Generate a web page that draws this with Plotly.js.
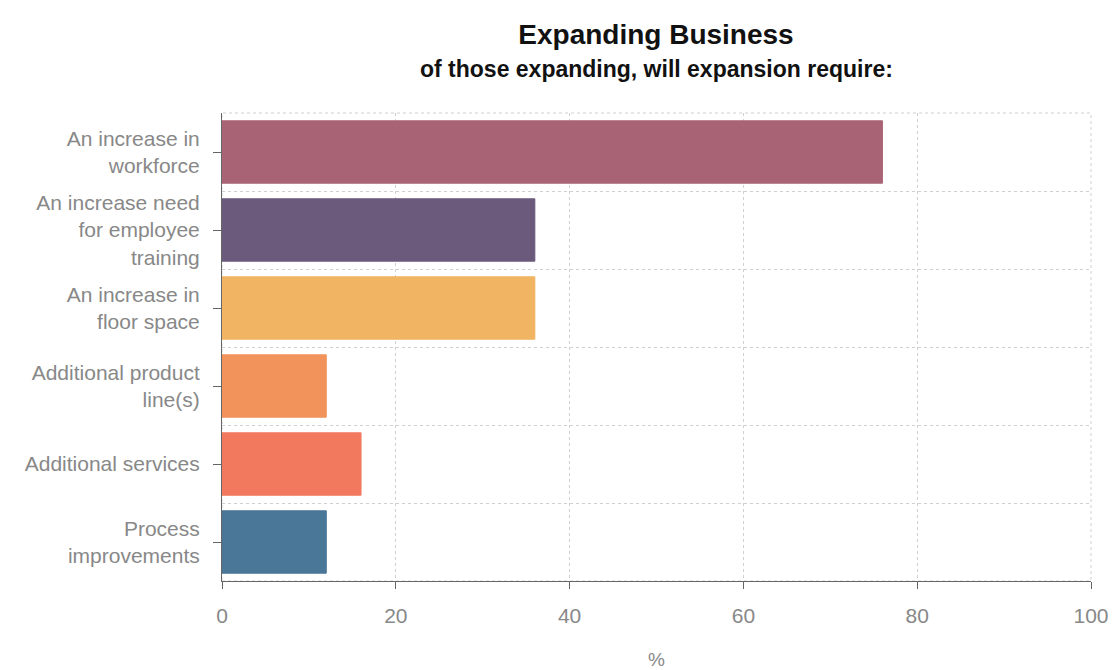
<!DOCTYPE html>
<html>
<head>
<meta charset="utf-8">
<script src="https://cdn.plot.ly/plotly-3.0.1.min.js"></script>
<style>html,body{margin:0;padding:0;background:#fff;}#chart{width:1113px;height:670px;}</style>
</head>
<body>
<div id="chart"></div>
<script>
const categories = [
  "An increase in<br>workforce",
  "An increase need<br>for employee<br>training",
  "An increase in<br>floor space",
  "Additional product<br>line(s)",
  "Additional services",
  "Process<br>improvements"
];
const values = [76, 36, 36, 12, 16, 12];
const barColors = ["#a86474", "#6b5a7c", "#f0b462", "#f1935a", "#f2795e", "#4a7698"];
const xTicks = [0, 20, 40, 60, 80, 100];
const boundaryTicks = [-0.5, 0.5, 1.5, 2.5, 3.5, 4.5, 5.5];
const centerTicks = [0, 1, 2, 3, 4, 5];

const font = "Liberation Sans, Arial, sans-serif";
const gridCol = "#d0d0d0";

const traces = [
  {
    type: "bar",
    orientation: "h",
    x: values,
    y: centerTicks,
    marker: { color: barColors, line: { color: barColors, width: 1 } },
    hoverinfo: "x",
    showlegend: false
  },
  {
    type: "scatter",
    mode: "markers",
    x: [],
    y: [],
    yaxis: "y2",
    showlegend: false,
    hoverinfo: "skip"
  }
];

const layout = {
  width: 1113,
  height: 670,
  margin: { l: 222, r: 22, t: 113, b: 89 },
  paper_bgcolor: "#fff",
  plot_bgcolor: "#fff",
  bargap: 0.2,
  showlegend: false,
  font: { family: font, color: "#888" },
  title: {
    text: "<b>Expanding Business</b>",
    font: { family: font, size: 28, color: "#111" },
    x: 0.5894, xanchor: "center",
    y: 0.949, yanchor: "middle"
  },
  annotations: [
    {
      text: "<b>of those expanding, will expansion require:</b>",
      xref: "paper", yref: "paper",
      x: 0.5, y: 1.0, yshift: 44,
      xanchor: "center", yanchor: "middle",
      showarrow: false,
      font: { family: font, size: 23, color: "#111" }
    }
  ],
  shapes: [
    {
      type: "rect", xref: "paper", yref: "paper",
      x0: 0, x1: 1, y0: 0, y1: 1,
      layer: "below",
      line: { color: gridCol, width: 1, dash: "3px,3px" },
      fillcolor: "rgba(0,0,0,0)"
    }
  ],
  xaxis: {
    range: [0, 100],
    tickvals: xTicks,
    ticktext: xTicks.map(String),
    showgrid: true,
    gridcolor: gridCol,
    griddash: "3px,3px",
    gridwidth: 1,
    zeroline: false,
    showline: true,
    linecolor: "#666",
    linewidth: 1,
    ticks: "outside",
    ticklen: 7,
    tickcolor: "#666",
    ticklabelstandoff: 9,
    tickfont: { family: font, size: 21, color: "#888" },
    title: { text: "%", font: { family: font, size: 19, color: "#888" }, standoff: 26 }
  },
  yaxis: {
    range: [5.5, -0.5],
    tickvals: centerTicks,
    ticktext: categories,
    showgrid: false,
    zeroline: false,
    showline: true,
    linecolor: "#666",
    linewidth: 1,
    ticks: "outside",
    ticklen: 8,
    tickcolor: "#666",
    ticklabelstandoff: 9,
    tickfont: { family: font, size: 21, color: "#888" }
  },
  yaxis2: {
    overlaying: "y",
    range: [5.5, -0.5],
    tickvals: boundaryTicks,
    showticklabels: false,
    showgrid: true,
    gridcolor: gridCol,
    griddash: "3px,3px",
    gridwidth: 1,
    zeroline: false,
    showline: false,
    ticks: ""
  }
};

Plotly.newPlot("chart", traces, layout, { displayModeBar: false, staticPlot: true });
</script>
</body>
</html>
